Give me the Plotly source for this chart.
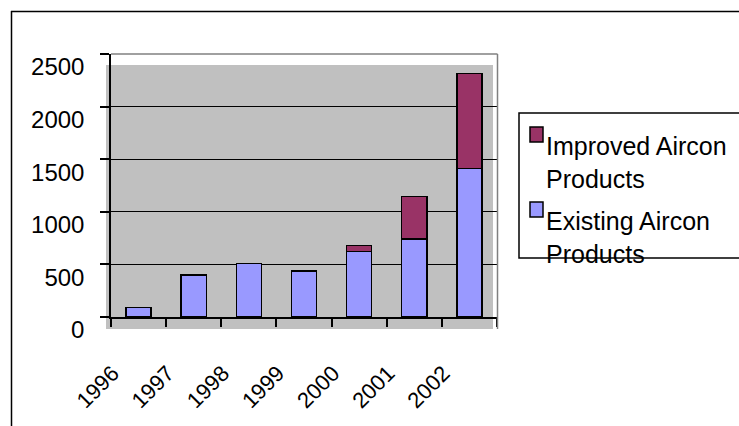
import plotly.graph_objects as go

# ---- data ----
years = ["1996", "1997", "1998", "1999", "2000", "2001", "2002"]
existing = [90, 400, 510, 435, 625, 740, 1410]
improved = [None, None, None, None, 57, 404, 905]
series_names = ["Existing Aircon Products", "Improved Aircon Products"]
series_colors = ["#9999FF", "#993366"]
y_ticks = [0, 500, 1000, 1500, 2000, 2500]

# ---- geometry helpers (pixel -> paper) ----
W, H = 739, 426
PL, PR, PT, PB = 111, 497, 54, 317


def px(x):
    return (x - PL) / (PR - PL)


def py(y):
    return (PB - y) / (PB - PT)


FONT = "Liberation Sans, Arial, sans-serif"

fig = go.Figure()
for vals, name, col in zip([existing, improved], series_names, series_colors):
    fig.add_trace(go.Bar(
        x=years, y=vals, name=name, showlegend=False,
        marker=dict(color=col, line=dict(color="black", width=1.5)),
    ))

shapes = [
    # gray (offset) plot background
    dict(type="rect", xref="paper", yref="paper", layer="below",
         x0=px(106), x1=px(493), y0=py(329), y1=py(65),
         fillcolor="#C0C0C0", line=dict(width=0)),
    # gray frame top/right
    dict(type="line", xref="paper", yref="paper", x0=px(111), x1=px(497.5),
         y0=py(54), y1=py(54), line=dict(color="#808080", width=1.5)),
    dict(type="line", xref="paper", yref="paper", x0=px(497.5), x1=px(497.5),
         y0=py(54), y1=py(329), line=dict(color="#808080", width=1.5)),
    # outer chart frame (top + left)
    dict(type="line", xref="paper", yref="paper", x0=px(11), x1=px(760),
         y0=py(11.5), y1=py(11.5), line=dict(color="black", width=1.5)),
    dict(type="line", xref="paper", yref="paper", x0=px(11.5), x1=px(11.5),
         y0=py(11), y1=py(440), line=dict(color="black", width=1.5)),
    # legend box
    dict(type="rect", xref="paper", yref="paper", x0=px(519), x1=px(760),
         y0=py(258), y1=py(113), line=dict(color="black", width=1.5),
         fillcolor="white"),
]

annotations = []
legend_order = [1, 0]
marker_tops = [127, 202]
for slot, idx in enumerate(legend_order):
    top = marker_tops[slot]
    shapes.append(dict(type="rect", xref="paper", yref="paper",
                       x0=px(530), x1=px(543), y0=py(top + 15), y1=py(top),
                       fillcolor=series_colors[idx],
                       line=dict(color="black", width=1.5)))
    name = series_names[idx]
    first, last = name.rsplit(" ", 1)
    annotations.append(dict(
        xref="paper", yref="paper", x=px(545), y=py(top + 4),
        xanchor="left", yanchor="top", align="left", showarrow=False,
        text=first + "<br>" + last, borderpad=0,
        font=dict(family=FONT, size=25, color="black")))

fig.update_layout(
    width=W, height=H,
    margin=dict(l=PL, r=W - PR, t=PT, b=H - PB, pad=0, autoexpand=False),
    paper_bgcolor="white", plot_bgcolor="rgba(0,0,0,0)",
    barmode="stack", bargap=0.545,
    font=dict(family=FONT, size=23, color="black"),
    shapes=shapes, annotations=annotations,
    showlegend=False,
    xaxis=dict(
        type="category", range=[-0.5, 6.5], showline=True, linecolor="black",
        linewidth=1.5, ticks="outside", ticklen=8, tickcolor="black",
        tickwidth=1.5, tickson="boundaries", tickangle=-45,
        tickfont=dict(family=FONT, size=22, color="black"),
        ticklabelstandoff=33, ticklabelshift=-26, showgrid=False,
        automargin=False,
    ),
    yaxis=dict(
        range=[0, 2500], tickvals=y_ticks, showline=True, linecolor="black",
        linewidth=1.5, ticks="outside", ticklen=9, tickcolor="black",
        tickwidth=1.5, showgrid=True, gridcolor="black", gridwidth=1,
        zeroline=False, ticklabelshift=13, ticklabelstandoff=11,
        tickfont=dict(family=FONT, size=24, color="black"),
        automargin=False,
    ),
)

fig.write_html("out.html")
